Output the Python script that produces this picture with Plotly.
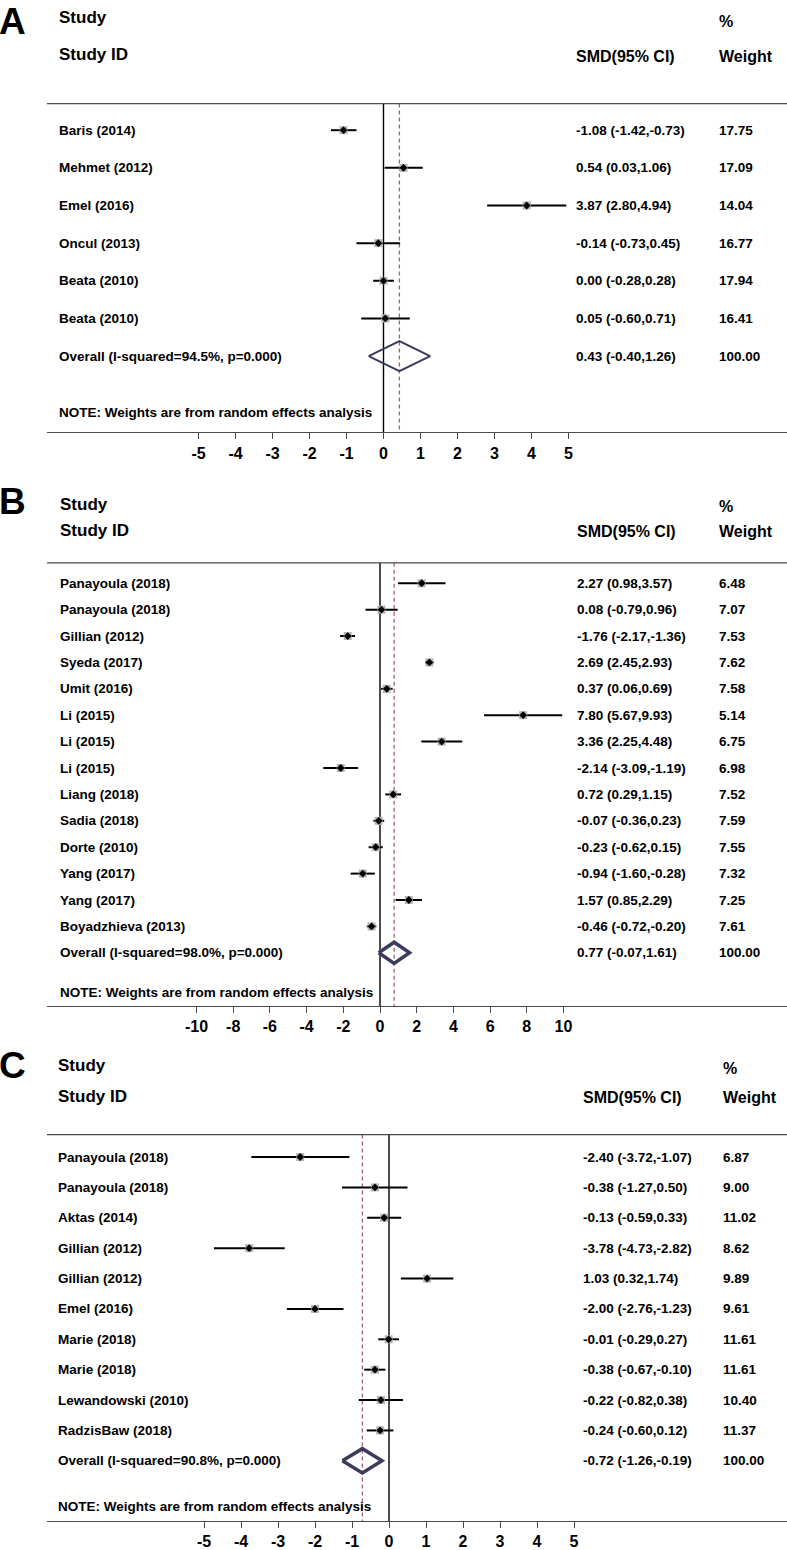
import plotly.graph_objects as go

W, H = 787, 1550
FONT = "Liberation Sans, Arial, sans-serif"

# ---------------- Data ----------------
# Panel A
a_study = ["Baris (2014)", "Mehmet (2012)", "Emel (2016)", "Oncul (2013)",
           "Beata (2010)", "Beata (2010)"]
a_est = [-1.08, 0.54, 3.87, -0.14, 0.00, 0.05]
a_lo = [-1.42, 0.03, 2.80, -0.73, -0.28, -0.60]
a_hi = [-0.73, 1.06, 4.94, 0.45, 0.28, 0.71]
a_wt = [17.75, 17.09, 14.04, 16.77, 17.94, 16.41]
a_overall_label = "Overall (I-squared=94.5%, p=0.000)"
a_overall = [0.43, -0.40, 1.26, 100.00]
a_ticks = [-5, -4, -3, -2, -1, 0, 1, 2, 3, 4, 5]

# Panel B
b_study = ["Panayoula (2018)", "Panayoula (2018)", "Gillian (2012)", "Syeda (2017)",
           "Umit (2016)", "Li (2015)", "Li (2015)", "Li (2015)", "Liang (2018)",
           "Sadia (2018)", "Dorte (2010)", "Yang (2017)", "Yang (2017)",
           "Boyadzhieva (2013)"]
b_est = [2.27, 0.08, -1.76, 2.69, 0.37, 7.80, 3.36, -2.14, 0.72, -0.07, -0.23, -0.94, 1.57, -0.46]
b_lo = [0.98, -0.79, -2.17, 2.45, 0.06, 5.67, 2.25, -3.09, 0.29, -0.36, -0.62, -1.60, 0.85, -0.72]
b_hi = [3.57, 0.96, -1.36, 2.93, 0.69, 9.93, 4.48, -1.19, 1.15, 0.23, 0.15, -0.28, 2.29, -0.20]
b_wt = [6.48, 7.07, 7.53, 7.62, 7.58, 5.14, 6.75, 6.98, 7.52, 7.59, 7.55, 7.32, 7.25, 7.61]
b_overall_label = "Overall (I-squared=98.0%, p=0.000)"
b_overall = [0.77, -0.07, 1.61, 100.00]
b_ticks = [-10, -8, -6, -4, -2, 0, 2, 4, 6, 8, 10]

# Panel C
c_study = ["Panayoula (2018)", "Panayoula (2018)", "Aktas (2014)", "Gillian (2012)",
           "Gillian (2012)", "Emel (2016)", "Marie (2018)", "Marie (2018)",
           "Lewandowski (2010)", "RadzisBaw (2018)"]
c_est = [-2.40, -0.38, -0.13, -3.78, 1.03, -2.00, -0.01, -0.38, -0.22, -0.24]
c_lo = [-3.72, -1.27, -0.59, -4.73, 0.32, -2.76, -0.29, -0.67, -0.82, -0.60]
c_hi = [-1.07, 0.50, 0.33, -2.82, 1.74, -1.23, 0.27, -0.10, 0.38, 0.12]
c_wt = [6.87, 9.00, 11.02, 8.62, 9.89, 9.61, 11.61, 11.61, 10.40, 11.37]
c_overall_label = "Overall (I-squared=90.8%, p=0.000)"
c_overall = [-0.72, -1.26, -0.19, 100.00]
c_ticks = [-5, -4, -3, -2, -1, 0, 1, 2, 3, 4, 5]

note_text = "NOTE: Weights are from random effects analysis"
panel_letters = ["A", "B", "C"]

# ---------------- Layout geometry (pixels) ----------------
panels = [
    dict(letter="A", study=a_study, est=a_est, lo=a_lo, hi=a_hi, wt=a_wt,
         ov_label=a_overall_label, ov=a_overall, ticks=a_ticks,
         top=0, first=130.7, step=37.8, topline=104, bottom=434,
         zero=383.5, unit=37.0, letter_y=0, label_x=57, smd_x=574, wt_x=717,
         dia_w=2.0),
    dict(letter="B", study=b_study, est=b_est, lo=b_lo, hi=b_hi, wt=b_wt,
         ov_label=b_overall_label, ov=b_overall, ticks=b_ticks,
         top=465, first=585.5, step=26.5, topline=565, bottom=1010,
         zero=380.0, unit=18.35, letter_y=482, label_x=58, smd_x=575, wt_x=717,
         dia_w=3.5),
    dict(letter="C", study=c_study, est=c_est, lo=c_lo, hi=c_hi, wt=c_wt,
         ov_label=c_overall_label, ov=c_overall, ticks=c_ticks,
         top=1037, first=1161.5, step=30.5, topline=1139, bottom=1527,
         zero=389.0, unit=37.0, letter_y=1048, label_x=56, smd_x=581, wt_x=721,
         dia_w=3.5),
]

LEFT = 47
fig = go.Figure()
annotations = []
shapes = []
layout_axes = {}

for k, p in enumerate(panels):
    n = k + 1
    xa = "x" if n == 1 else f"x{n}"
    ya = "y" if n == 1 else f"y{n}"
    xkey = "xaxis" if n == 1 else f"xaxis{n}"
    ykey = "yaxis" if n == 1 else f"yaxis{n}"

    step, first = p["step"], p["first"]
    y_bottom = (p["bottom"] - first) / step
    y_top = (p["top"] - first) / step
    y_line = (p["topline"] - first) / step
    x_left = (LEFT - p["zero"]) / p["unit"]
    x_right = (W - p["zero"]) / p["unit"]

    layout_axes[xkey] = dict(
        domain=[LEFT / W, 1.0], range=[x_left, x_right], anchor=ya,
        showline=True, linecolor="#4a4a4a", linewidth=1.3,
        ticks="outside", ticklen=6, tickwidth=1.3, tickcolor="#4a4a4a",
        tickvals=p["ticks"], ticktext=[str(t) for t in p["ticks"]],
        tickfont=dict(family=FONT, size=16, color="black", weight="bold"),
        showgrid=False, zeroline=False, fixedrange=True,
    )
    layout_axes[ykey] = dict(
        domain=[1 - p["bottom"] / H, 1 - p["top"] / H], range=[y_bottom, y_top],
        anchor=xa, visible=False, showgrid=False, zeroline=False, fixedrange=True,
    )

    rows = list(range(len(p["study"])))
    ov_row = len(p["study"])
    note_row = ov_row + 1.5

    # reference lines
    shapes.append(dict(type="line", xref="paper", yref=ya, x0=LEFT / W, x1=1.0,
                       y0=y_line, y1=y_line, line=dict(color="#4a4a4a", width=1.3)))
    shapes.append(dict(type="line", xref=xa, yref=ya, x0=0, x1=0,
                       y0=y_line, y1=y_bottom, line=dict(color="black", width=1.4),
                       layer="below"))
    shapes.append(dict(type="line", xref=xa, yref=ya, x0=p["ov"][0], x1=p["ov"][0],
                       y0=y_line, y1=y_bottom,
                       line=dict(color="#a8606c", width=1.3, dash="4px,3px"),
                       layer="below"))

    # CI lines
    cx, cy = [], []
    for i in rows:
        cx += [p["lo"][i], p["hi"][i], None]
        cy += [i, i, None]
    fig.add_trace(go.Scatter(x=cx, y=cy, mode="lines", xaxis=xa, yaxis=ya,
                             line=dict(color="black", width=2), hoverinfo="skip",
                             showlegend=False))
    # weight boxes
    fig.add_trace(go.Scatter(x=p["est"], y=rows, mode="markers", xaxis=xa, yaxis=ya,
                             marker=dict(symbol="square", size=8, color="#b5b5b5"),
                             hoverinfo="skip", showlegend=False))
    # point estimates
    fig.add_trace(go.Scatter(x=p["est"], y=rows, mode="markers", xaxis=xa, yaxis=ya,
                             marker=dict(symbol="diamond", size=6, color="black"),
                             hoverinfo="skip", showlegend=False))
    # overall diamond
    e, l, h, _ = p["ov"]
    fig.add_trace(go.Scatter(x=[l, e, h, e, l], y=[ov_row, ov_row - 0.4, ov_row, ov_row + 0.4, ov_row],
                             mode="lines", xaxis=xa, yaxis=ya,
                             line=dict(color="#3b3b5c", width=p["dia_w"]),
                             hoverinfo="skip", showlegend=False))

    def txt(x_px, yv, s, size=13.5):
        annotations.append(dict(xref="paper", yref=ya, x=x_px / W, y=yv, text=s,
                                showarrow=False, xanchor="left", yanchor="middle",
                                font=dict(family=FONT, size=size, color="black", weight="bold")))

    # headers
    txt(p["label_x"], -3.0, "Study", 17)
    txt(p["label_x"], -2.0, "Study ID", 17)
    txt(p["wt_x"], -2.9, "%", 16)
    txt(p["smd_x"], -1.95, "SMD(95% CI)", 16)
    txt(p["wt_x"], -1.95, "Weight", 16)

    for i in rows:
        txt(p["label_x"], i, p["study"][i])
        txt(p["smd_x"], i, f"{p['est'][i]:.2f} ({p['lo'][i]:.2f},{p['hi'][i]:.2f})")
        txt(p["wt_x"], i, f"{p['wt'][i]:.2f}")
    txt(p["label_x"], ov_row, p["ov_label"])
    txt(p["smd_x"], ov_row, f"{e:.2f} ({l:.2f},{h:.2f})")
    txt(p["wt_x"], ov_row, f"{p['ov'][3]:.2f}")
    txt(p["label_x"], note_row, note_text)

    # panel letter (top-anchored so its box stays inside the page)
    annotations.append(dict(xref="paper", yref="paper", x=-0.002, y=1 - p["letter_y"] / H,
                            text=p["letter"], showarrow=False, xanchor="left", yanchor="top",
                            borderpad=0,
                            font=dict(family=FONT, size=37, color="black", weight="bold")))

fig.update_layout(
    width=W, height=H, margin=dict(l=0, r=0, t=0, b=0),
    paper_bgcolor="white", plot_bgcolor="white",
    annotations=annotations, shapes=shapes, showlegend=False,
    **layout_axes,
)

fig.write_html(
    "out.html",
    config={"displayModeBar": False},
    post_script="document.body.style.margin='0';document.body.style.overflow='hidden';",
)
